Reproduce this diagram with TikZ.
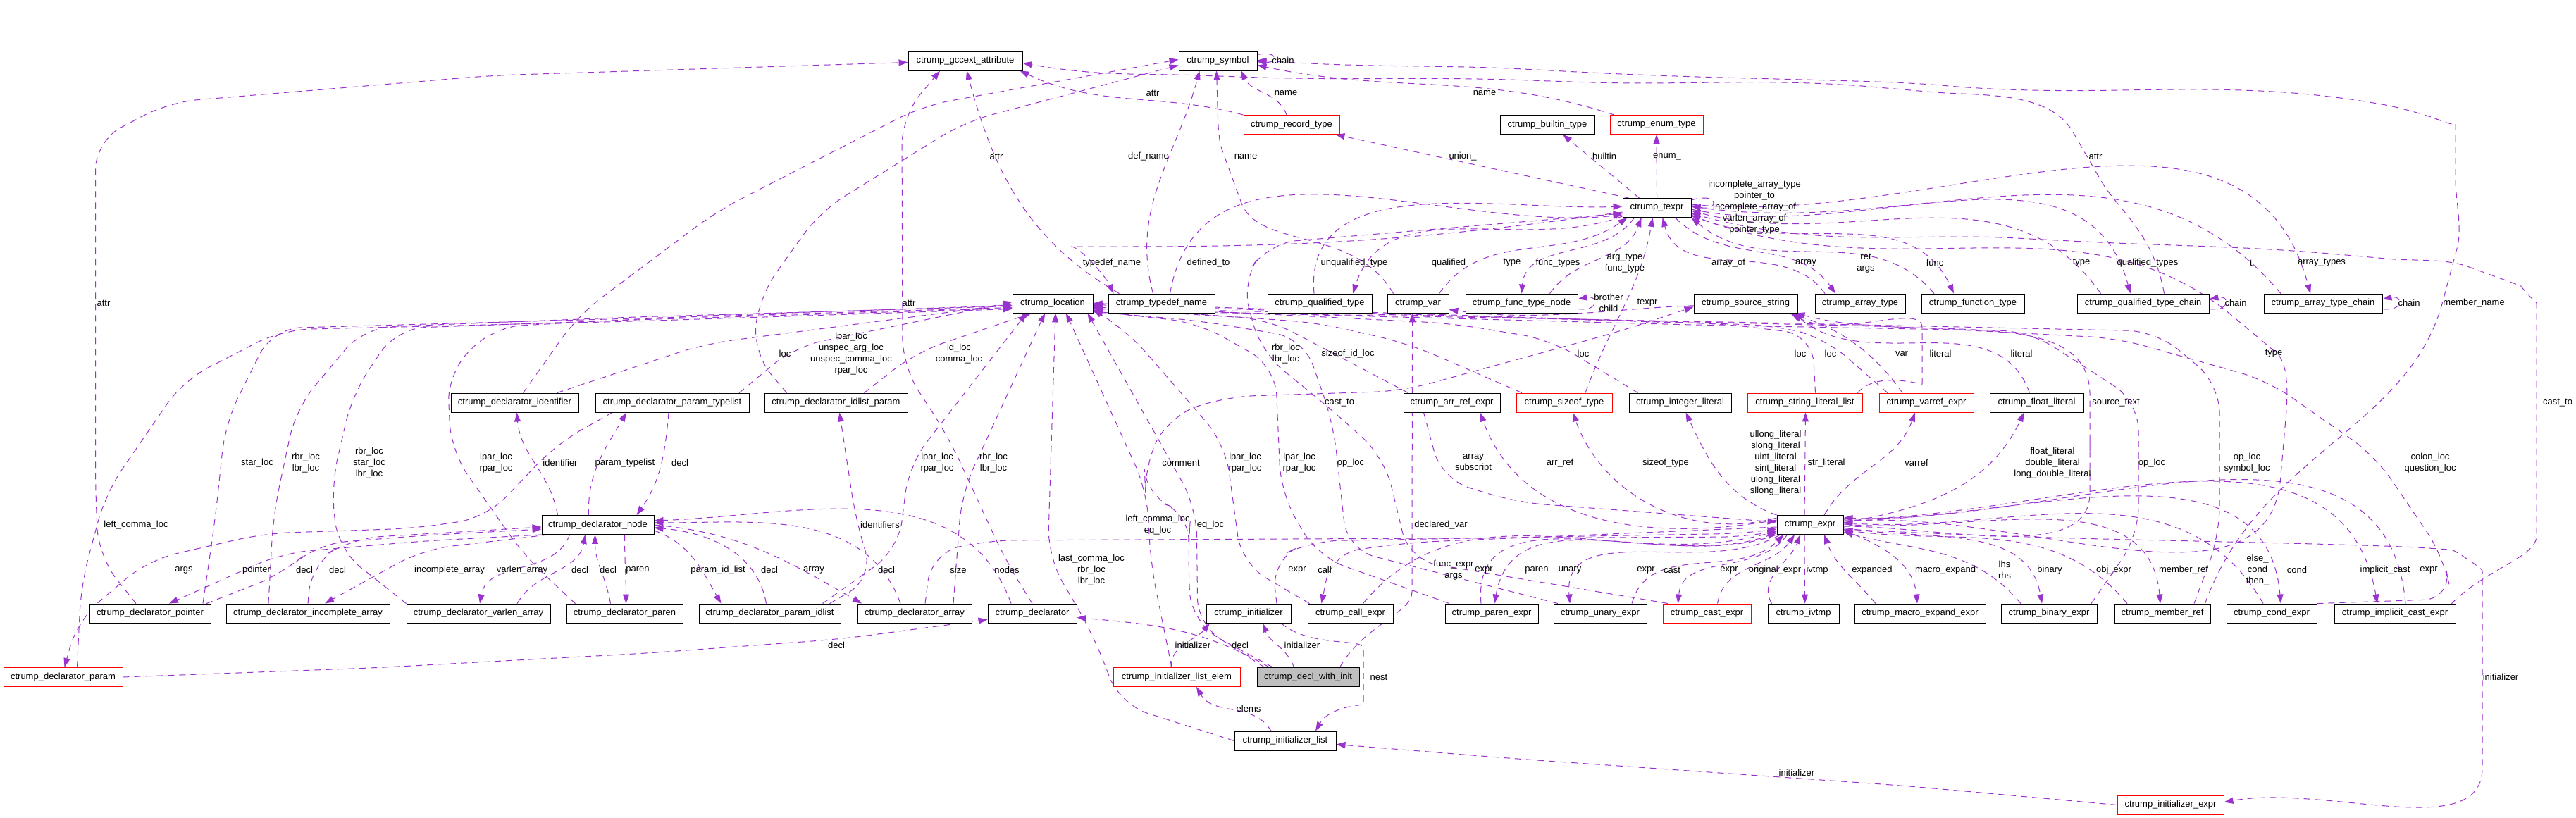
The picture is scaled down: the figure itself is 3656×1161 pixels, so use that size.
\documentclass[tikz,border=0pt]{standalone}
\usepackage{fontspec}
\setmainfont{Liberation Sans}
\usetikzlibrary{arrows.meta}
\definecolor{ec}{HTML}{9A32CD}
\definecolor{nodegray}{HTML}{BFBFBF}
\pgfdeclarelayer{bg}
\pgfdeclarelayer{edges}
\pgfsetlayers{bg,edges,main}
\tikzset{
  box/.style={draw=black, line width=0.9pt, rectangle, minimum height=27pt, inner sep=0pt, fill=white, font=\fontsize{13}{15}\selectfont},
  redbox/.style={box, draw=red},
  graybox/.style={box, fill=nodegray},
  e/.style={draw=ec, line width=1pt, dash pattern=on 9pt off 7pt, -{Triangle[length=13pt,width=9pt]}, rounded corners=40pt},
  lbl/.style={inner sep=0pt, align=center, font=\fontsize{13}{16}\selectfont},
}
\begin{document}
\begin{tikzpicture}[x=1pt,y=1pt]
\begin{pgfonlayer}{bg}
\fill[white] (0,0) rectangle (3656,-1161);
\end{pgfonlayer}
\path[use as bounding box] (0,0) rectangle (3656,-1161);
% ---------- nodes
\node[box,minimum width=162pt] (gccext) at (1370,-86.5) {ctrump\_gccext\_attribute};
\node[box,minimum width=111pt] (symbol) at (1728.5,-86.5) {ctrump\_symbol};
\node[redbox,minimum width=136pt] (recordtype) at (1833,-177) {ctrump\_record\_type};
\node[box,minimum width=134pt] (builtin) at (2196,-177) {ctrump\_builtin\_type};
\node[redbox,minimum width=132pt] (enumt) at (2351,-177) {ctrump\_enum\_type};
\node[box,minimum width=97pt] (texpr) at (2351.5,-295) {ctrump\_texpr};
\node[box,minimum width=114pt] (location) at (1494,-430.5) {ctrump\_location};
\node[box,minimum width=151pt] (typedefname) at (1648.5,-430.5) {ctrump\_typedef\_name};
\node[box,minimum width=148pt] (qualtype) at (1873,-430.5) {ctrump\_qualified\_type};
\node[box,minimum width=87pt] (var) at (2012.5,-430.5) {ctrump\_var};
\node[box,minimum width=159pt] (ftnode) at (2159.5,-430.5) {ctrump\_func\_type\_node};
\node[box,minimum width=147pt] (srcstr) at (2477.5,-430.5) {ctrump\_source\_string};
\node[box,minimum width=128pt] (arrtype) at (2640,-430.5) {ctrump\_array\_type};
\node[box,minimum width=146pt] (functype) at (2800,-430.5) {ctrump\_function\_type};
\node[box,minimum width=187pt] (qtchain) at (3041.5,-430.5) {ctrump\_qualified\_type\_chain};
\node[box,minimum width=168pt] (atchain) at (3297,-430.5) {ctrump\_array\_type\_chain};
\node[box,minimum width=181pt] (dident) at (730.5,-571.5) {ctrump\_declarator\_identifier};
\node[box,minimum width=218pt] (dptl) at (954,-571.5) {ctrump\_declarator\_param\_typelist};
\node[box,minimum width=203pt] (dilp) at (1186.5,-571.5) {ctrump\_declarator\_idlist\_param};
\node[box,minimum width=137pt] (arrref) at (2060.5,-571.5) {ctrump\_arr\_ref\_expr};
\node[redbox,minimum width=136pt] (sizeoft) at (2220,-571.5) {ctrump\_sizeof\_type};
\node[box,minimum width=145pt] (intlit) at (2384.5,-571.5) {ctrump\_integer\_literal};
\node[redbox,minimum width=163pt] (strlit) at (2561.5,-571.5) {ctrump\_string\_literal\_list};
\node[redbox,minimum width=134pt] (varref) at (2734,-571.5) {ctrump\_varref\_expr};
\node[box,minimum width=133pt] (floatlit) at (2890.5,-571.5) {ctrump\_float\_literal};
\node[box,minimum width=159pt] (dnode) at (848.5,-745) {ctrump\_declarator\_node};
\node[box,minimum width=94pt] (expr) at (2569,-745) {ctrump\_expr};
\node[box,minimum width=172pt] (dptr) at (213,-870.5) {ctrump\_declarator\_pointer};
\node[box,minimum width=232pt] (dinc) at (437,-870.5) {ctrump\_declarator\_incomplete\_array};
\node[box,minimum width=204pt] (dvla) at (679,-870.5) {ctrump\_declarator\_varlen\_array};
\node[box,minimum width=165pt] (dparen) at (886.5,-870.5) {ctrump\_declarator\_paren};
\node[box,minimum width=201pt] (dpil) at (1092.5,-870.5) {ctrump\_declarator\_param\_idlist};
\node[box,minimum width=162pt] (darr) at (1298,-870.5) {ctrump\_declarator\_array};
\node[box,minimum width=126pt] (decl) at (1465,-870.5) {ctrump\_declarator};
\node[box,minimum width=120pt] (init) at (1772,-870.5) {ctrump\_initializer};
\node[box,minimum width=121pt] (callx) at (1916.5,-870.5) {ctrump\_call\_expr};
\node[box,minimum width=132pt] (parenx) at (2117,-870.5) {ctrump\_paren\_expr};
\node[box,minimum width=132pt] (unaryx) at (2271,-870.5) {ctrump\_unary\_expr};
\node[redbox,minimum width=125pt] (castx) at (2422.5,-870.5) {ctrump\_cast\_expr};
\node[box,minimum width=101pt] (ivtmp) at (2559.5,-870.5) {ctrump\_ivtmp};
\node[box,minimum width=186pt] (macrox) at (2725,-870.5) {ctrump\_macro\_expand\_expr};
\node[box,minimum width=136pt] (binx) at (2908,-870.5) {ctrump\_binary\_expr};
\node[box,minimum width=136pt] (memref) at (3069,-870.5) {ctrump\_member\_ref};
\node[box,minimum width=128pt] (condx) at (3224,-870.5) {ctrump\_cond\_expr};
\node[box,minimum width=172pt] (icast) at (3399,-870.5) {ctrump\_implicit\_cast\_expr};
\node[redbox,minimum width=169pt] (dparam) at (89.5,-961) {ctrump\_declarator\_param};
\node[redbox,minimum width=180pt] (ile) at (1670,-961) {ctrump\_initializer\_list\_elem};
\node[graybox,minimum width=145pt] (dwi) at (1856.5,-961) {ctrump\_decl\_with\_init};
\node[box,minimum width=144pt] (ilist) at (1824,-1051.5) {ctrump\_initializer\_list};
\node[redbox,minimum width=151pt] (iexpr) at (3080.5,-1142.5) {ctrump\_initializer\_expr};
% ---------- edges
\begin{pgfonlayer}{edges}
% top
\draw[e] ([yshift=9pt]symbol.east) .. controls +(30,6) and +(30,-2) .. ([yshift=-1pt]symbol.east);
\draw[e] ([xshift=-7pt]recordtype.north) to[out=110,in=-65] ([xshift=33pt]symbol.south);
\draw[e] (recordtype.north west) to[out=165,in=-25] ([xshift=-4pt]gccext.south east);
\draw[e] ([xshift=-60pt]enumt.north) to[out=162,in=-12] ([yshift=-6pt]symbol.east);
\draw[e] ([xshift=30pt]qtchain.north) to[out=100,in=-60] (2962,-222) to[out=120,in=-5] (2700,-127) to[out=175,in=-2] (2200,-115) to[out=178,in=-2] (1730,-108) to[out=178,in=-10] ([yshift=-3pt]gccext.east);
\draw[e] ([xshift=-8pt]memref.north east) to[out=70,in=-105] (3477,-390) to[out=75,in=-90] (3485,-215) to[out=90,in=-20] (3420,-155) to[out=170,in=-5] (2720,-118) to[out=178,in=-3] (2200,-100) to[out=177,in=-4] ([yshift=1pt]symbol.east);
\draw[e] ([xshift=-6pt]icast.north east) to[out=45,in=-90] (3600,-720) -- (3600,-470) to[out=90,in=-20] (3540,-392) to[out=160,in=-5] (3352,-364) to[out=175,in=-3] (2900,-340) to[out=177,in=-15] ([yshift=-8pt]texpr.east);
\draw[e] ([yshift=-6pt]expr.east) to[out=-3,in=178] (3440,-777) to[out=-5,in=90] (3523,-850) -- (3523,-1050) to[out=-90,in=10] ([yshift=4pt]iexpr.east);
\draw[e] ([xshift=-40pt]texpr.north) -- ([xshift=-6pt]recordtype.south east);
\draw[e] ([xshift=-25pt]texpr.north) -- ([xshift=22pt]builtin.south);
\draw[e] (texpr.north) -- (enumt.south);
\draw[e] ([yshift=11pt]texpr.east) .. controls +(40,12) and +(40,-8) .. ([yshift=3pt]texpr.east);
\draw[e] ([xshift=-12pt]typedefname.north) to[out=105,in=-105] ([xshift=-26pt]symbol.south);
\draw[e] ([yshift=-6pt]texpr.west) to[out=188,in=0] (1560,-350) to[out=180,in=115] ([xshift=-68pt]typedefname.north);
\draw[e] ([xshift=12pt]typedefname.north) to[out=80,in=186] ([yshift=-10pt]texpr.west);
\draw[e] ([xshift=-8pt]qualtype.north) to[out=95,in=182] ([yshift=2pt]texpr.west);
\draw[e] ([yshift=-12pt]texpr.west) to[out=200,in=72] ([xshift=47pt]qualtype.north);
\draw[e] ([xshift=-35pt]var.north) to[out=120,in=-70] (1748,-250) to[out=110,in=-88] ([xshift=-2pt]symbol.south);
\draw[e] ([xshift=30pt]var.north) to[out=55,in=215] ([xshift=-42pt]texpr.south);
\draw[e] ([xshift=-32pt]texpr.south) to[out=235,in=85] (ftnode.north);
\draw[e] ([xshift=40pt]ftnode.north) to[out=55,in=250] ([xshift=-22pt]texpr.south);
\draw[e] ([xshift=-50pt]arrtype.north) to[out=125,in=-75] ([xshift=8pt]texpr.south);
\draw[e] ([xshift=26pt]texpr.south) to[out=-45,in=125] ([xshift=-35pt]arrtype.north);
\draw[e] ([xshift=-55pt]functype.north) to[out=130,in=-40] (texpr.south east);
\draw[e] ([yshift=-10pt]texpr.east) to[out=-25,in=115] ([xshift=-27pt]functype.north);
\draw[e] ([xshift=-60pt]qtchain.north) to[out=125,in=-15] ([yshift=-4pt]texpr.east);
\draw[e] ([yshift=-2pt]texpr.east) to[out=-12,in=105] ([xshift=-18pt]qtchain.north);
\draw[e] ([xshift=-60pt]atchain.north) to[out=130,in=-8] ([yshift=2pt]texpr.east);
\draw[e] ([yshift=5pt]texpr.east) to[out=-6,in=105] ([xshift=-18pt]atchain.north);
\draw[e] ([yshift=-8pt]qtchain.east) .. controls +(30,-4) and +(30,6) .. ([yshift=6pt]qtchain.east);
\draw[e] ([yshift=-8pt]atchain.east) .. controls +(30,-4) and +(30,6) .. ([yshift=6pt]atchain.east);
\draw[e] ([yshift=-8pt]ftnode.east) .. controls +(30,-4) and +(30,6) .. ([yshift=6pt]ftnode.east);
\draw[e] ([xshift=30pt]sizeoft.north) to[out=70,in=-100] ([xshift=-6pt]texpr.south);
\draw[e] ([yshift=5pt]expr.east) to[out=5,in=-95] (3240,-640) to[out=85,in=-40] (3200,-475) to[out=140,in=-20] ([yshift=-11pt]texpr.east);
\draw[e] ([yshift=-2pt]expr.east) to[out=0,in=-90] (2966,-660) -- (2966,-600) to[out=90,in=-15] ([xshift=-3pt]srcstr.south east);
\draw[e] ([xshift=-34pt]varref.north) to[out=125,in=-8] ([yshift=-9pt]var.east);
\draw[e] ([xshift=-10pt]floatlit.north) to[out=110,in=-40] ([xshift=-6pt]srcstr.south east);
\draw[e] ([xshift=75pt]strlit.north) to[out=50,in=-90] (2728,-505) to[out=90,in=-30] ([xshift=-10pt]srcstr.south east);
\draw[e] ([xshift=-55pt]castx.north) -- (2000,-795) -- (1965,-650) -- (1900,-590) -- (1790,-500) -- (1762,-400) -- (1800,-345) -- ([yshift=-8pt]texpr.west);
% location, left side
\draw[e] ([xshift=75pt]dptr.north) -- (305,-740) -- (320,-600) -- (387,-466) -- (900,-452) -- ([yshift=-6pt]location.west);
\draw[e] ([xshift=-56pt]dinc.north) -- (388,-730) -- (420,-580) -- (516,-465) -- (900,-450) -- ([yshift=-4pt]location.west);
\draw[e] (dvla.north west) -- (480,-780) -- (470,-690) -- (500,-560) -- (563,-466) -- (900,-454) -- ([yshift=-7pt]location.west);
\draw[e] ([xshift=-70pt]dparen.north) -- (745,-790) -- (640,-640) -- (635,-530) -- (700,-464) -- (1000,-448) -- ([yshift=-3pt]location.west);
\draw[e] ([xshift=20pt]dparam.north) -- (115,-830) -- (150,-700) -- (260,-540) -- (400,-468) -- (900,-456) -- ([yshift=-8pt]location.west);
\draw[e] ([xshift=60pt]dident.north) -- (1000,-488) -- ([yshift=-1pt]location.west);
\draw[e] ([xshift=95pt]dptl.north) -- (1128,-492) -- ([yshift=2pt]location.west);
\draw[e] ([xshift=40pt]dilp.north) -- (1300,-500) -- ([xshift=-30pt]location.south);
\draw[e] ([xshift=-70pt]dilp.north) -- (1068,-500) -- (1078,-420) -- (1164,-300) -- (1369,-173) -- ([yshift=-6pt]symbol.west);
\draw[e] ([xshift=12pt]dident.north) -- (821,-447) -- (1017,-300) -- (1310,-150) -- ([yshift=2pt]symbol.west);
\draw[e] ([xshift=75pt]dpil.north) -- (1275,-780) -- (1290,-660) -- ([xshift=-37pt]location.south);
\draw[e] ([xshift=55pt]darr.north) -- (1365,-700) -- ([xshift=-11pt]location.south);
\draw[e] (ilist.west) -- (1590,-1000) -- (1551,-900) -- (1487,-790) -- ([xshift=4pt]location.south);
\draw[e] ([xshift=-7pt]ile.north) -- (1633,-800) -- (1628,-697) -- ([xshift=19pt]location.south);
\draw[e] ([xshift=-50pt]dwi.north) -- (1700,-890) -- (1698,-720) -- ([xshift=-8pt]location.south east);
% location, right side
\draw[e] ([xshift=-58pt]callx.north) -- (1762,-800) -- (1739,-630) -- (1600,-470) -- ([yshift=-9pt]location.east);
\draw[e] ([xshift=-60pt]parenx.north) -- (1870,-790) -- (1818,-700) -- (1810,-520) -- (1700,-458) -- ([yshift=-11pt]location.east);
\draw[e] ([xshift=-60pt]unaryx.north) -- (1912,-780) -- (1892,-600) -- (1850,-480) -- (1700,-455) -- ([yshift=-12pt]location.east);
\draw[e] ([xshift=-62pt]arrref.north) -- (1800,-453) -- ([yshift=-7pt]location.east);
\draw[e] ([xshift=-60pt]sizeoft.north) -- (2000,-488) -- (1870,-458) -- ([yshift=-5pt]location.east);
\draw[e] ([xshift=-60pt]intlit.north) -- (2200,-482) -- (2060,-459) -- ([yshift=-3pt]location.east);
\draw[e] ([xshift=15pt]strlit.north) -- (2572,-475) -- (2450,-460) -- ([yshift=-2pt]location.east);
\draw[e] ([xshift=-55pt]varref.north) -- (2590,-480) -- (2520,-462) -- (location.east);
\draw[e] ([xshift=60pt]binx.north) -- (3035,-760) -- (3035,-570) -- (2880,-470) -- (2400,-461) -- ([yshift=-8pt]location.east);
\draw[e] ([xshift=45pt]memref.north) -- (3150,-760) -- (3150,-545) -- (3060,-470) -- (2500,-458) -- ([yshift=-10pt]location.east);
\draw[e] (condx.north east) -- (3480,-850) -- (3468,-790) -- (3371,-647) -- (3218,-540) -- (3005,-480) -- (2700,-464) -- ([yshift=-6pt]location.east);
% declarator nodes
\draw[e] ([xshift=-57pt]dnode.north) to[out=100,in=-85] ([xshift=3pt]dident.south);
\draw[e] ([xshift=-13pt]dnode.north) to[out=92,in=-120] ([xshift=-65pt]dptl.south);
\draw[e] ([xshift=-5pt]dptl.south) to[out=-95,in=55] ([xshift=55pt]dnode.north);
\draw[e] ([xshift=-85pt]dptl.south) -- (790,-630) -- (690,-735) -- (587,-750) -- (375,-757) -- (210,-795) -- (110,-880) -- ([xshift=2pt]dparam.north);
\draw[e] (dnode.south west) -- (600,-768) -- (400,-785) -- ([xshift=27pt]dptr.north);
\draw[e] ([xshift=80pt]dptr.north) -- (400,-815) -- (450,-772) -- (600,-760) -- ([yshift=-6pt]dnode.west);
\draw[e] ([xshift=-70pt]dnode.south) -- (600,-780) -- ([xshift=24pt]dinc.north);
\draw[e] (dinc.north) -- (442,-800) -- (500,-764) -- ([yshift=-3pt]dnode.west);
\draw[e] ([xshift=-40pt]dnode.south) to[out=-110,in=80] ([xshift=2pt]dvla.north);
\draw[e] ([xshift=55pt]dvla.north) to[out=60,in=-100] ([xshift=-18pt]dnode.south);
\draw[e] ([xshift=38pt]dnode.south) to[out=-90,in=90] ([xshift=2pt]dparen.north);
\draw[e] ([xshift=-20pt]dparen.north) to[out=100,in=-90] ([xshift=-4pt]dnode.south);
\draw[e] ([yshift=-8pt]dnode.east) to[out=-20,in=120] ([xshift=-69pt]dpil.north);
\draw[e] ([xshift=-5pt]dpil.north) to[out=100,in=-5] ([yshift=-4pt]dnode.east);
\draw[e] (dnode.east) to[out=-5,in=150] ([xshift=-75pt]darr.north);
\draw[e] ([xshift=-20pt]darr.north) to[out=110,in=0] ([yshift=3pt]dnode.east);
\draw[e] ([xshift=-30pt]decl.north) to[out=110,in=2] ([yshift=6pt]dnode.east);
\draw[e] ([xshift=85pt]dpil.north) -- (1240,-820) -- (1215,-740) -- ([xshift=5pt]dilp.south);
\draw[e] (dparam.east) -- (528,-948) -- (920,-927) -- (1193,-907) -- ([yshift=5pt]decl.south west);
\draw[e] ([xshift=-55pt]dwi.north) to[out=150,in=-5] ([yshift=-6pt]decl.east);
\draw[e] ([xshift=-20pt]dwi.north) to[out=110,in=-70] ([xshift=20pt]init.south);
\draw[e] ([xshift=-8pt]ile.north) to[out=90,in=-130] ([xshift=-55pt]init.south);
\draw[e] ([xshift=46pt]init.south) to[out=-40,in=90] (1935,-960) to[out=-90,in=60] ([xshift=43pt]ilist.north);
\draw[e] ([xshift=-20pt]ilist.north) to[out=120,in=-60] ([xshift=28pt]ile.south);
\draw[e] (iexpr.west) -- (2700,-1115) -- (2152,-1077) -- ([yshift=-5pt]ilist.east);
\draw[e] ([xshift=45pt]dwi.north) to[out=60,in=-90] (2004,-800) -- ([xshift=-8pt]var.south);
\draw[e] ([xshift=-62pt]dwi.north) -- (1690,-880) -- (1686,-780) -- (1690,-730) -- (1626,-705) -- (1624,-660) -- (1660,-590) -- (1740,-563) -- (1990,-555) -- (2300,-470) -- ([yshift=-5pt]srcstr.west);
\draw[e] ([xshift=-20pt]dptr.north) -- (140,-790) -- (135.5,-700) -- (135.5,-200) -- (240,-145) -- (700,-107) -- ([yshift=-2pt]gccext.west);
\draw[e] (decl.north) -- (1428,-797) -- (1346,-620) -- (1281,-520) -- (1280,-165) -- ([xshift=-36pt]gccext.south);
\draw[e] ([xshift=-60pt]typedefname.north) to[out=150,in=-75] ([xshift=2pt]gccext.south);
% expressions row
\draw[e] ([xshift=40pt]init.north) -- (1805,-795) -- (1860,-768) -- (2480,-757) -- ([yshift=-6pt]expr.west);
\draw[e] ([yshift=-3pt]expr.west) -- (2000,-770) -- (1890,-785) -- ([xshift=-41pt]callx.north);
\draw[e] ([xshift=18pt]callx.north) to[out=50,in=195] ([yshift=-9pt]expr.west);
\draw[e] ([xshift=-15pt]parenx.north) to[out=95,in=200] ([yshift=-11pt]expr.west);
\draw[e] (expr.south west) to[out=200,in=80] ([xshift=4pt]parenx.north);
\draw[e] ([xshift=5pt]expr.south west) to[out=210,in=95] ([xshift=-43pt]unaryx.north);
\draw[e] ([xshift=45pt]unaryx.north) to[out=75,in=225] ([xshift=10pt]expr.south west);
\draw[e] ([xshift=15pt]expr.south west) to[out=235,in=85] ([xshift=-41pt]castx.north);
\draw[e] ([xshift=15pt]castx.north) to[out=80,in=235] ([xshift=-22pt]expr.south);
\draw[e] ([xshift=-45pt]ivtmp.north) to[out=120,in=-110] ([xshift=-14pt]expr.south);
\draw[e] ([xshift=-8pt]expr.south) -- ([xshift=2pt]ivtmp.north);
\draw[e] ([xshift=-63pt]macrox.north) to[out=130,in=-70] ([xshift=20pt]expr.south);
\draw[e] ([yshift=-8pt]expr.east) to[out=-20,in=95] ([xshift=-4pt]macrox.north);
\draw[e] ([xshift=-40pt]binx.north) to[out=130,in=-15] ([yshift=-10pt]expr.east);
\draw[e] ([yshift=-4pt]expr.east) to[out=-10,in=100] ([xshift=-10pt]binx.north);
\draw[e] ([xshift=-50pt]memref.north) to[out=130,in=-8] ([yshift=-7pt]expr.east);
\draw[e] ([yshift=1pt]expr.east) to[out=-5,in=95] ([xshift=-3pt]memref.north);
\draw[e] ([xshift=-12pt]condx.north) to[out=120,in=-4] ([yshift=3pt]expr.east);
\draw[e] ([yshift=6pt]expr.east) to[out=0,in=95] ([xshift=13pt]condx.north);
\draw[e] ([yshift=8pt]expr.east) to[out=0,in=100] ([xshift=-25pt]icast.north);
\draw[e] ([xshift=15pt]icast.north) to[out=95,in=-2] ([yshift=10pt]expr.east);
\draw[e] ([xshift=15pt]darr.north) -- (1322,-785) -- (1400,-767) -- (2480,-762) -- ([yshift=-9pt]expr.west);
% literals row
\draw[e] ([xshift=-40pt]arrref.south) -- (2046,-680) -- (2152,-713) -- ([yshift=4pt]expr.west);
\draw[e] ([yshift=7pt]expr.west) to[out=190,in=-70] ([xshift=40pt]arrref.south);
\draw[e] ([yshift=10pt]expr.west) to[out=195,in=-70] ([xshift=12pt]sizeoft.south);
\draw[e] (expr.north west) to[out=160,in=-65] ([xshift=8pt]intlit.south);
\draw[e] ([xshift=-8pt]expr.north) -- ([xshift=1pt]strlit.south);
\draw[e] ([xshift=20pt]expr.north) to[out=60,in=-110] ([xshift=-16pt]varref.south);
\draw[e] ([yshift=3pt]expr.east) to[out=10,in=-115] ([xshift=-18pt]floatlit.south);
\end{pgfonlayer}
% ---------- labels
\node[lbl] (t1) at (1821,-86) {chain};
\node[lbl] (t2) at (1825,-132) {name};
\node[lbl] (t3) at (1636,-132) {attr};
\node[lbl] (t4) at (2107,-132) {name};
\node[lbl] (t5) at (2974,-222) {attr};
\node[lbl] (t6) at (1414,-222) {attr};
\node[lbl] (t7) at (1630,-222) {def\_name};
\node[lbl] (t8) at (1768,-222) {name};
\node[lbl] (t9) at (2076,-222) {union\_};
\node[lbl] (t10) at (2277,-222) {builtin};
\node[lbl] (t11) at (2366,-222) {enum\_};
\node[lbl] (t12) at (2490,-294) {incomplete\_array\_type\\pointer\_to\\incomplete\_array\_of\\varlen\_array\_of\\pointer\_type};
\node[lbl] (t13) at (1578,-373) {typedef\_name};
\node[lbl] (t14) at (1715,-373) {defined\_to};
\node[lbl] (t15) at (1922,-373) {unqualified\_type};
\node[lbl] (t16) at (2056,-373) {qualified};
\node[lbl] (t17) at (2146,-373) {type};
\node[lbl] (t18) at (2211,-373) {func\_types};
\node[lbl] (t19) at (2306,-374) {arg\_type\\func\_type};
\node[lbl] (t20) at (2453,-373) {array\_of};
\node[lbl] (t21) at (2563,-373) {array};
\node[lbl] (t22) at (2648,-374) {ret\\args};
\node[lbl] (t23) at (2746,-373) {func};
\node[lbl] (t24) at (2954,-373) {type};
\node[lbl] (t25) at (3048,-373) {qualified\_types};
\node[lbl] (t26) at (3195,-373) {t};
\node[lbl] (t27) at (3295,-373) {array\_types};
\node[lbl] (t28) at (147,-430) {attr};
\node[lbl] (t29) at (1290,-430) {attr};
\node[lbl] (t30) at (2283,-430) {brother\\child};
\node[lbl] (t31) at (2338,-430) {texpr};
\node[lbl] (t32) at (3173,-430) {chain};
\node[lbl] (t33) at (3419,-430) {chain};
\node[lbl] (t34) at (3511,-430) {member\_name};
\node[lbl] (t35) at (1114,-502) {loc};
\node[lbl] (t36) at (1208,-502) {lpar\_loc\\unspec\_arg\_loc\\unspec\_comma\_loc\\rpar\_loc};
\node[lbl] (t37) at (1361,-502) {id\_loc\\comma\_loc};
\node[lbl] (t38) at (1825,-502) {rbr\_loc\\lbr\_loc};
\node[lbl] (t39) at (1913,-502) {sizeof\_id\_loc};
\node[lbl] (t40) at (2247,-502) {loc};
\node[lbl] (t41) at (2555,-502) {loc};
\node[lbl] (t42) at (2598,-502) {loc};
\node[lbl] (t43) at (2699,-502) {var};
\node[lbl] (t44) at (2754,-502) {literal};
\node[lbl] (t45) at (2869,-502) {literal};
\node[lbl] (t46) at (3227,-502) {type};
\node[lbl] (t47) at (1901,-572) {cast\_to};
\node[lbl] (t48) at (3003,-572) {source\_text};
\node[lbl] (t49) at (3630,-572) {cast\_to};
\node[lbl] (t50) at (365,-657) {star\_loc};
\node[lbl] (t51) at (434,-657) {rbr\_loc\\lbr\_loc};
\node[lbl] (t52) at (524,-657) {rbr\_loc\\star\_loc\\lbr\_loc};
\node[lbl] (t53) at (704,-657) {lpar\_loc\\rpar\_loc};
\node[lbl] (t54) at (795,-657) {identifier};
\node[lbl] (t55) at (887,-657) {param\_typelist};
\node[lbl] (t56) at (965,-657) {decl};
\node[lbl] (t57) at (1330,-657) {lpar\_loc\\rpar\_loc};
\node[lbl] (t58) at (1410,-657) {rbr\_loc\\lbr\_loc};
\node[lbl] (t59) at (1676,-657) {comment};
\node[lbl] (t60) at (1767,-657) {lpar\_loc\\rpar\_loc};
\node[lbl] (t61) at (1844,-657) {lpar\_loc\\rpar\_loc};
\node[lbl] (t62) at (1917,-657) {op\_loc};
\node[lbl] (t63) at (2091,-657) {array\\subscript};
\node[lbl] (t64) at (2214,-657) {arr\_ref};
\node[lbl] (t65) at (2364,-657) {sizeof\_type};
\node[lbl] (t66) at (2520,-657) {ullong\_literal\\slong\_literal\\uint\_literal\\sint\_literal\\ulong\_literal\\sllong\_literal};
\node[lbl] (t67) at (2592,-657) {str\_literal};
\node[lbl] (t68) at (2720,-657) {varref};
\node[lbl] (t69) at (2913,-657) {float\_literal\\double\_literal\\long\_double\_literal};
\node[lbl] (t70) at (3054,-657) {op\_loc};
\node[lbl] (t71) at (3189,-657) {op\_loc\\symbol\_loc};
\node[lbl] (t72) at (3449,-657) {colon\_loc\\question\_loc};
\node[lbl] (t73) at (193,-745) {left\_comma\_loc};
\node[lbl] (t74) at (1249,-745) {identifiers};
\node[lbl] (t75) at (1643,-745) {left\_comma\_loc\\eq\_loc};
\node[lbl] (t76) at (1718,-745) {eq\_loc};
\node[lbl] (t77) at (2045,-745) {declared\_var};
\node[lbl] (t78) at (261,-809) {args};
\node[lbl] (t79) at (364,-809) {pointer};
\node[lbl] (t80) at (432,-809) {decl};
\node[lbl] (t81) at (479,-809) {decl};
\node[lbl] (t82) at (638,-809) {incomplete\_array};
\node[lbl] (t83) at (741,-809) {varlen\_array};
\node[lbl] (t84) at (823,-809) {decl};
\node[lbl] (t85) at (863,-809) {decl};
\node[lbl] (t86) at (905,-809) {paren};
\node[lbl] (t87) at (1019,-809) {param\_id\_list};
\node[lbl] (t88) at (1092,-809) {decl};
\node[lbl] (t89) at (1155,-809) {array};
\node[lbl] (t90) at (1258,-809) {decl};
\node[lbl] (t91) at (1360,-809) {size};
\node[lbl] (t92) at (1429,-809) {nodes};
\node[lbl] (t93) at (1549,-809) {last\_comma\_loc\\rbr\_loc\\lbr\_loc};
\node[lbl] (t94) at (1841,-809) {expr};
\node[lbl] (t95) at (1880,-809) {call};
\node[lbl] (t96) at (2063,-809) {func\_expr\\args};
\node[lbl] (t97) at (2106,-809) {expr};
\node[lbl] (t98) at (2181,-809) {paren};
\node[lbl] (t99) at (2228,-809) {unary};
\node[lbl] (t100) at (2336,-809) {expr};
\node[lbl] (t101) at (2373,-809) {cast};
\node[lbl] (t102) at (2454,-809) {expr};
\node[lbl] (t103) at (2519,-809) {original\_expr};
\node[lbl] (t104) at (2579,-809) {ivtmp};
\node[lbl] (t105) at (2657,-809) {expanded};
\node[lbl] (t106) at (2761,-809) {macro\_expand};
\node[lbl] (t107) at (2845,-809) {lhs\\rhs};
\node[lbl] (t108) at (2909,-809) {binary};
\node[lbl] (t109) at (3000,-809) {obj\_expr};
\node[lbl] (t110) at (3099,-809) {member\_ref};
\node[lbl] (t111) at (3204,-809) {else\_\\cond\\then\_};
\node[lbl] (t112) at (3260,-809) {cond};
\node[lbl] (t113) at (3385,-809) {implicit\_cast};
\node[lbl] (t114) at (3447,-809) {expr};
\node[lbl] (t115) at (1187,-916) {decl};
\node[lbl] (t116) at (1693,-916) {initializer};
\node[lbl] (t117) at (1760,-916) {decl};
\node[lbl] (t118) at (1848,-916) {initializer};
\node[lbl] (t119) at (1957,-961) {nest};
\node[lbl] (t120) at (3549,-961) {initializer};
\node[lbl] (t121) at (1772,-1006) {elems};
\node[lbl] (t122) at (2550,-1097) {initializer};
\end{tikzpicture}
\end{document}
